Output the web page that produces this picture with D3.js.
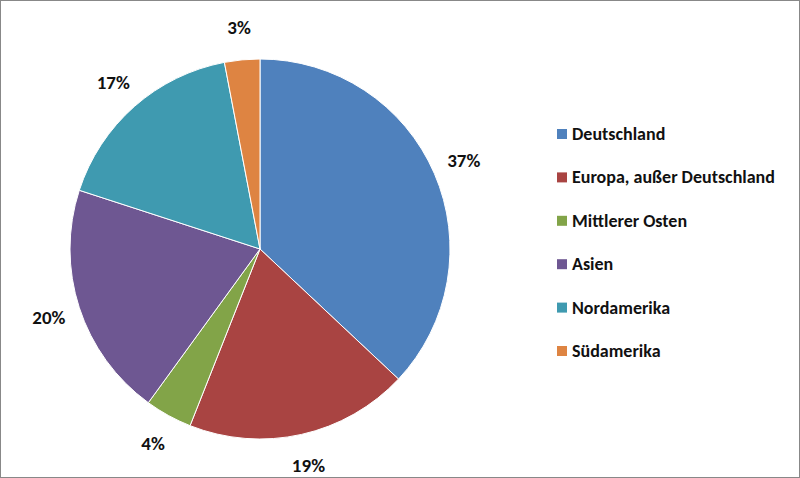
<!DOCTYPE html>
<html><head><meta charset="utf-8">
<script src="https://cdn.jsdelivr.net/npm/d3@7"></script>
<style>body{margin:0;background:#fff}</style></head>
<body><svg id="c" width="800" height="478"></svg>
<script>
const categories=["Deutschland","Europa, außer Deutschland","Mittlerer Osten","Asien","Nordamerika","Südamerika"];
const values=[37,19,4,20,17,3];
const colors=["#4F81BD","#A94442","#82A448","#6E5792","#3F9AB0","#DE8442"];
const svg=d3.select("#c");
svg.append("rect").attr("x",0.5).attr("y",0.5).attr("width",799).attr("height",477).attr("fill","#fff").attr("stroke","#888");
const g=svg.append("g").attr("transform","translate(260,249)");
const pie=d3.pie().sort(null).value(d=>d)(values);
const arc=d3.arc().innerRadius(0).outerRadius(190);
const lab=d3.arc().innerRadius(222).outerRadius(222);
g.selectAll("path").data(pie).join("path").attr("d",arc).attr("fill",(d,i)=>colors[i]).attr("stroke","#fff").attr("stroke-width",1);
g.selectAll("text").data(pie).join("text").attr("transform",d=>`translate(${lab.centroid(d)})`)
 .attr("text-anchor","middle").attr("dominant-baseline","central")
 .style("font-family","Carlito, Lato, sans-serif").style("font-size","19px").style("font-weight","bold").attr("fill","#111")
 .text(d=>d.value+"%");
const y=d3.scalePoint().domain(categories).range([134,351]);
const lg=svg.append("g");
categories.forEach((c,i)=>{
 lg.append("rect").attr("x",557).attr("y",y(c)-5).attr("width",10).attr("height",10).attr("fill",colors[i]);
 lg.append("text").attr("x",572).attr("y",y(c)).attr("dominant-baseline","central")
  .style("font-family","Carlito, Lato, sans-serif").style("font-size","18px").style("font-weight","600").attr("fill","#111").text(c);
});
</script></body></html>
